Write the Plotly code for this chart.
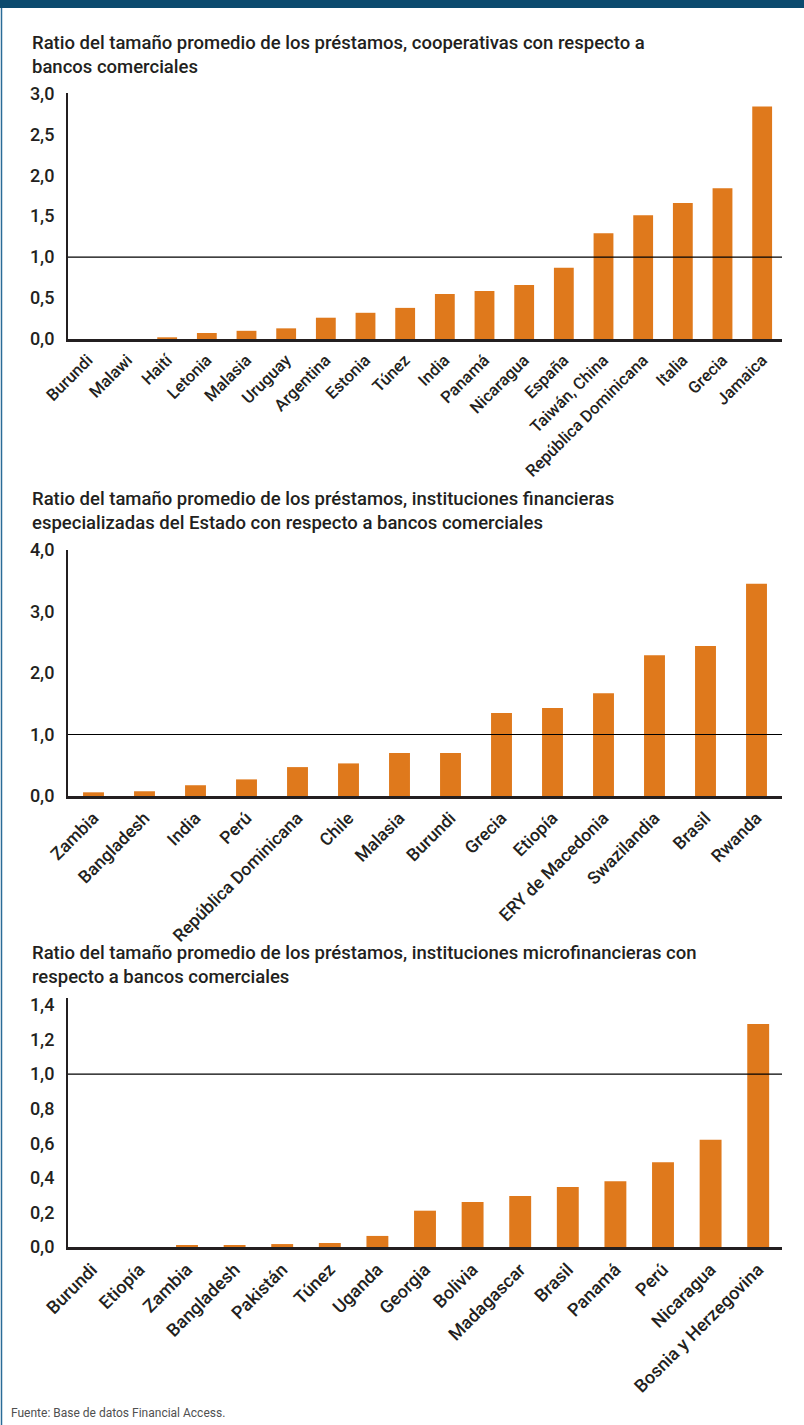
import plotly.graph_objects as go

W, H = 804, 1425

# Ratio del tamaño promedio de los préstamos – cooperativas
paises_coop = ["Burundi", "Malawi", "Haití", "Letonia", "Malasia", "Uruguay", "Argentina",
               "Estonia", "Túnez", "India", "Panamá", "Nicaragua", "España", "Taiwán, China",
               "República Dominicana", "Italia", "Grecia", "Jamaica"]
ratio_coop = [0.0, 0.0, 0.02, 0.073, 0.10, 0.13, 0.26, 0.32, 0.38, 0.55, 0.585, 0.66,
              0.87, 1.29, 1.51, 1.66, 1.84, 2.84]

# Instituciones financieras especializadas del Estado
paises_estado = ["Zambia", "Bangladesh", "India", "Perú", "República Dominicana", "Chile",
                 "Malasia", "Burundi", "Grecia", "Etiopía", "ERY de Macedonia", "Swazilandia",
                 "Brasil", "Rwanda"]
ratio_estado = [0.06, 0.077, 0.175, 0.27, 0.47, 0.53, 0.70, 0.70, 1.35, 1.43, 1.67, 2.29,
                2.44, 3.45]

# Instituciones microfinancieras
paises_micro = ["Burundi", "Etiopía", "Zambia", "Bangladesh", "Pakistán", "Túnez", "Uganda",
                "Georgia", "Bolivia", "Madagascar", "Brasil", "Panamá", "Perú", "Nicaragua",
                "Bosnia y Herzegovina"]
ratio_micro = [0.0, 0.0, 0.011, 0.011, 0.017, 0.023, 0.064, 0.21, 0.26, 0.295, 0.347, 0.38,
               0.49, 0.62, 1.29]

titulos = [
    "Ratio del tamaño promedio de los préstamos, cooperativas con respecto a<br>bancos comerciales",
    "Ratio del tamaño promedio de los préstamos, instituciones financieras<br>especializadas del Estado con respecto a bancos comerciales",
    "Ratio del tamaño promedio de los préstamos, instituciones microfinancieras con<br>respecto a bancos comerciales",
]

NARANJA = "#df791c"
TINTA = "#231f20"
FUENTE = "Roboto"


def py(px):
    return 1 - px / H


def px_x(px):
    return px / W


paneles = [
    dict(x=paises_coop, y=ratio_coop, width=0.5, top=93.3, bottom=339, rng=[0, 3.0],
         dtick=0.5, fmt=".1f", title_top=30, tick_size=16.5),
    dict(x=paises_estado, y=ratio_estado, width=0.41, top=550, bottom=796, rng=[0, 4.0],
         dtick=1.0, fmt=".1f", title_top=486, tick_size=17.5),
    dict(x=paises_micro, y=ratio_micro, width=0.46, top=998, bottom=1247, rng=[0, 1.44],
         dtick=0.2, fmt=".1f", title_top=940, tick_size=18),
]

fig = go.Figure()
layout = dict(
    width=W, height=H,
    autosize=False,
    margin=dict(l=0, r=0, t=0, b=0, pad=0, autoexpand=False),
    paper_bgcolor="white", plot_bgcolor="white",
    showlegend=False,
    separators=",.",
    font=dict(family=FUENTE, color=TINTA),
)

shapes = []
annotations = []

for i, p in enumerate(paneles, start=1):
    xa = "x" if i == 1 else f"x{i}"
    ya = "y" if i == 1 else f"y{i}"
    fig.add_trace(go.Bar(x=p["x"], y=p["y"], width=p["width"], marker_color=NARANJA,
                         marker_line_width=0, xaxis=xa, yaxis=ya))
    layout["xaxis" if i == 1 else f"xaxis{i}"] = dict(
        domain=[px_x(68), px_x(782)], anchor=ya, type="category",
        showline=True, linewidth=3, linecolor=TINTA, showgrid=False, zeroline=False,
        ticks="", tickangle=-45,
        tickfont=dict(size=p["tick_size"], color=TINTA, family=FUENTE, weight=500),
        ticklabelstandoff=2, fixedrange=True, automargin=False,
    )
    layout["yaxis" if i == 1 else f"yaxis{i}"] = dict(
        domain=[py(p["bottom"]), py(p["top"])], anchor=xa, range=p["rng"],
        dtick=p["dtick"], tick0=0, tickformat=p["fmt"],
        showline=True, linewidth=2, linecolor=TINTA, showgrid=False, zeroline=False,
        ticks="", tickfont=dict(size=18, color=TINTA, family=FUENTE, weight=500),
        ticklabelstandoff=8, fixedrange=True, automargin=False,
    )
    # Línea de referencia en 1,0
    shapes.append(dict(type="line", xref=f"{xa} domain", yref=ya, x0=0, x1=1, y0=1, y1=1,
                       line=dict(color="black", width=1.2), layer="above"))
    annotations.append(dict(text=titulos[i - 1], xref="paper", yref="paper",
                            x=px_x(30), y=py(p["title_top"]), xanchor="left", yanchor="top",
                            align="left", showarrow=False,
                            font=dict(size=18.5, color=TINTA, family=FUENTE, weight=500)))

# Franja superior y borde izquierdo
shapes.append(dict(type="rect", xref="paper", yref="paper", x0=0, x1=1, y0=py(8), y1=1,
                   fillcolor="#0b4a6e", line_width=0, layer="above"))
shapes.append(dict(type="line", xref="paper", yref="paper", x0=px_x(1.5), x1=px_x(1.5),
                   y0=0, y1=py(8), line=dict(color="#2a6b97", width=1.5)))

annotations.append(dict(text="Fuente: Base de datos Financial Access.", xref="paper",
                        yref="paper", x=px_x(9), y=py(1413), xanchor="left", yanchor="middle",
                        showarrow=False,
                        font=dict(size=12, color="#505050", family=FUENTE)))

layout["shapes"] = shapes
layout["annotations"] = annotations
fig.update_layout(**layout)

# Página sin márgenes: la figura ocupa exactamente la ventana
ajuste_pagina = (
    "document.documentElement.style.margin='0';"
    "document.body.style.margin='0';"
    "document.body.style.padding='0';"
    "document.body.style.overflow='hidden';"
    "var g=document.getElementById('{plot_id}');"
    "g.style.position='absolute';g.style.left='0px';g.style.top='0px';"
)
fig.write_html("out.html", post_script=ajuste_pagina)
